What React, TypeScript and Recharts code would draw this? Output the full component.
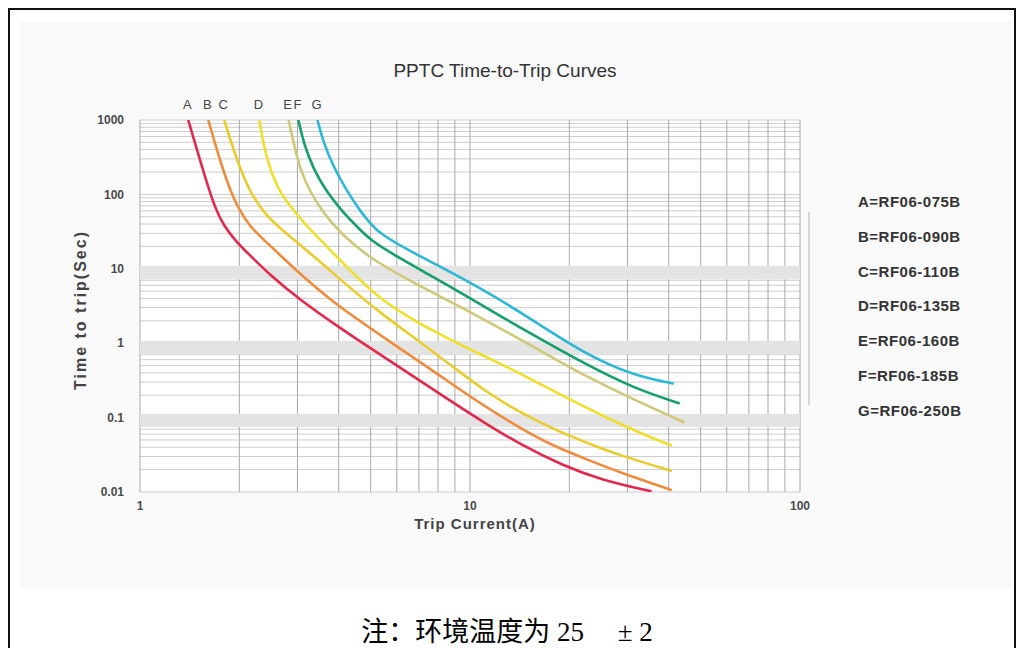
import React from "react";
import { LineChart, Line, XAxis, YAxis, CartesianGrid, ReferenceArea } from "recharts";

// curve values (current in A, time in s)
const CURRENT_A = [1.4, 1.52, 1.61, 1.69, 1.79, 1.97, 2.1, 2.48, 3.06, 4.0, 5.0, 6.5, 8.5, 11.3, 14.3, 19, 25, 35.5];
const TIME_A = [1000, 290, 125, 66, 38, 22.5, 17, 8.2, 3.8, 1.65, 0.85, 0.4, 0.18, 0.08, 0.043, 0.023, 0.0145, 0.0102];

const CURRENT_B = [1.61, 1.71, 1.84, 1.97, 2.16, 2.34, 2.7, 3.04, 3.86, 4.9, 6.17, 7.77, 10, 14.3, 18, 22.8, 28.8, 40.9];
const TIME_B = [1000, 395, 142, 68, 36.5, 26, 14.3, 8.7, 3.5, 1.68, 0.83, 0.42, 0.19, 0.07, 0.041, 0.027, 0.018, 0.0106];

const CURRENT_C = [1.8, 1.92, 2.06, 2.2, 2.43, 2.72, 3.38, 4.35, 5.48, 7.1, 8.94, 11.3, 14.3, 18, 22.8, 28.8, 40.9];
const TIME_C = [1000, 395, 171, 92, 50, 32, 14.5, 5.4, 2.35, 1.02, 0.47, 0.215, 0.115, 0.069, 0.045, 0.0305, 0.0192];

const CURRENT_D = [2.3, 2.36, 2.48, 2.66, 2.92, 3.22, 3.7, 4.56, 5.36, 6.76, 8.76, 11.3, 14.3, 18, 22.8, 28.8, 36.4, 40.9];
const TIME_D = [1000, 491, 213, 104, 61, 36.5, 19.6, 7.5, 3.9, 2.0, 1.1, 0.64, 0.385, 0.225, 0.133, 0.08, 0.051, 0.042];

const CURRENT_E = [2.82, 2.92, 3.06, 3.29, 3.6, 4.05, 4.66, 5.11, 6.76, 8.75, 11.2, 14.1, 18, 22.2, 31.5, 44.7];
const TIME_E = [1000, 491, 213, 104, 56, 30.3, 17.9, 13.1, 6.4, 3.6, 2.0, 1.15, 0.62, 0.37, 0.172, 0.086];

const CURRENT_F = [3.02, 3.13, 3.36, 3.7, 4.14, 4.66, 5.0, 5.75, 7.61, 9.13, 12.2, 14.3, 22.2, 31.5, 43.2];
const TIME_F = [1000, 491, 213, 104, 56, 33, 24.4, 16.3, 8.1, 5.1, 2.4, 1.59, 0.53, 0.246, 0.155];

const CURRENT_G = [3.45, 3.6, 3.86, 4.26, 4.66, 5.0, 5.36, 6.48, 8.17, 10.3, 14.1, 22.2, 31.5, 41.4];
const TIME_G = [1000, 491, 233, 106, 59, 40, 29.3, 17.9, 10.6, 6.1, 2.7, 0.71, 0.365, 0.286];

const SERIES = [
  { letter: "A", model: "RF06-075B", color: "#e2294d", x: CURRENT_A, y: TIME_A },
  { letter: "B", model: "RF06-090B", color: "#ee8c3c", x: CURRENT_B, y: TIME_B },
  { letter: "C", model: "RF06-110B", color: "#e9cd2e", x: CURRENT_C, y: TIME_C },
  { letter: "D", model: "RF06-135B", color: "#eee02a", x: CURRENT_D, y: TIME_D },
  { letter: "E", model: "RF06-160B", color: "#cfc878", x: CURRENT_E, y: TIME_E },
  { letter: "F", model: "RF06-185B", color: "#159f6a", x: CURRENT_F, y: TIME_F },
  { letter: "G", model: "RF06-250B", color: "#2db7d6", x: CURRENT_G, y: TIME_G },
];

const X_DECADES = [1, 10];
const Y_DECADES = [0.01, 0.1, 1, 10, 100];
const MANTISSA = [1, 2, 3, 4, 5, 6, 7, 8, 9];
const X_LABELS = [1, 10, 100];
const Y_LABELS = [0.01, 0.1, 1, 10, 100, 1000];
// grey bands printed on the log paper
const BANDS = [
  [7.2, 11],
  [0.7, 1.08],
  [0.075, 0.112],
];

const gridOf = (decades: number[], top: number) => [
  ...decades.flatMap((d) => MANTISSA.map((m) => Number((m * d).toPrecision(3)))),
  top,
];
const X_TICKS = gridOf(X_DECADES, 100);
const Y_TICKS = gridOf(Y_DECADES, 1000);

const font = '"Liberation Sans", Arial, sans-serif';
const tickStyle = { fontSize: 12, fontWeight: 700, fill: "#4a4a4a", fontFamily: font };

const YTitle = ({ viewBox }: any) => {
  const cx = viewBox.x + 10;
  const cy = viewBox.y + viewBox.height / 2 + 4;
  return (
    <text
      x={cx}
      y={cy}
      transform={`rotate(-90 ${cx} ${cy})`}
      textAnchor="middle"
      dominantBaseline="central"
      style={{ fontSize: 16, fontWeight: 700, fill: "#444", fontFamily: font, letterSpacing: 2 }}
    >
      Time to trip(Sec)
    </text>
  );
};

const XTitle = ({ viewBox }: any) => (
  <text
    x={viewBox.x + viewBox.width / 2 + 5}
    y={viewBox.y + 37}
    textAnchor="middle"
    style={{ fontSize: 15, fontWeight: 700, fill: "#444", fontFamily: font, letterSpacing: 1 }}
  >
    Trip Current(A)
  </text>
);

export default function App() {
  return (
    <div style={{ position: "relative", width: 1008, height: 640 }}>
      <div
        style={{
          position: "absolute",
          left: 0,
          top: 0,
          width: 1008,
          height: 640,
          boxSizing: "border-box",
          borderTop: "2px solid #111",
          borderLeft: "2px solid #111",
          borderRight: "2px solid #111",
        }}
      />
      <div style={{ position: "absolute", left: 12, top: 14, width: 992, height: 566, background: "#f9f9f9" }} />
      <div
        style={{
          position: "absolute",
          left: 297,
          top: 52,
          width: 400,
          textAlign: "center",
          fontFamily: font,
          fontSize: 19,
          color: "#333",
        }}
      >
        PPTC Time-to-Trip Curves
      </div>

      <div style={{ position: "absolute", left: 0, top: 0 }}>
        <LineChart width={1008} height={560} margin={{ top: 112, right: 216, bottom: 46, left: 62 }}>
          <CartesianGrid vertical={false} horizontal={false} fill="#ffffff" />
          {BANDS.map(([lo, hi], i) => (
            <ReferenceArea key={i} y1={lo} y2={hi} fill="#e3e3e3" fillOpacity={1} stroke="none" ifOverflow="hidden" />
          ))}
          <CartesianGrid vertical={false} stroke="#cdcdcd" />
          <CartesianGrid horizontal={false} stroke="#a9a9a9" />
          <XAxis
            type="number"
            dataKey="x"
            scale="log"
            domain={[1, 100]}
            ticks={X_TICKS}
            interval={0}
            allowDataOverflow
            axisLine={false}
            tickLine={false}
            tickSize={0}
            tickMargin={9}
            height={30}
            tick={tickStyle}
            tickFormatter={(v: number) => (X_LABELS.includes(v) ? String(v) : "")}
            label={<XTitle />}
          />
          <YAxis
            type="number"
            scale="log"
            domain={[0.01, 1000]}
            ticks={Y_TICKS}
            interval={0}
            allowDataOverflow
            axisLine={false}
            tickLine={false}
            tickSize={0}
            tickMargin={16}
            width={70}
            tick={tickStyle}
            tickFormatter={(v: number) => (Y_LABELS.includes(v) ? String(v) : "")}
            label={<YTitle />}
          />
          {SERIES.map((s) => (
            <Line
              key={s.letter}
              data={s.x.map((x, i) => ({ x, y: s.y[i] }))}
              dataKey="y"
              type="basis"
              stroke={s.color}
              strokeWidth={2.6}
              dot={false}
              isAnimationActive={false}
              label={(p: any) =>
                p.index === 0 ? (
                  <text
                    key={s.letter}
                    x={p.x - 1}
                    y={p.y - 11}
                    textAnchor="middle"
                    style={{ fontSize: 13, fill: "#444", fontFamily: font }}
                  >
                    {s.letter}
                  </text>
                ) : (
                  <g key={`${s.letter}${p.index}`} />
                )
              }
            />
          ))}
        </LineChart>
      </div>

      <div style={{ position: "absolute", left: 800, top: 204, width: 2, height: 193, background: "#d6d6d6" }} />
      <div
        style={{
          position: "absolute",
          left: 850,
          top: 183,
          fontFamily: font,
          fontSize: 15,
          fontWeight: 700,
          letterSpacing: 0.5,
          color: "#333",
        }}
      >
        {SERIES.map((s) => (
          <div key={s.letter} style={{ height: 34.8, lineHeight: "22px" }}>
            {s.letter}={s.model}
          </div>
        ))}
      </div>

      <div
        style={{
          position: "absolute",
          left: 0,
          top: 609,
          width: 998,
          textAlign: "center",
          fontFamily: '"Liberation Serif", "Noto Sans CJK SC", serif',
          fontSize: 27,
          lineHeight: "31px",
          color: "#000",
          whiteSpace: "pre",
        }}
      >
        {"注：环境温度为 25     ± 2"}
      </div>
    </div>
  );
}
